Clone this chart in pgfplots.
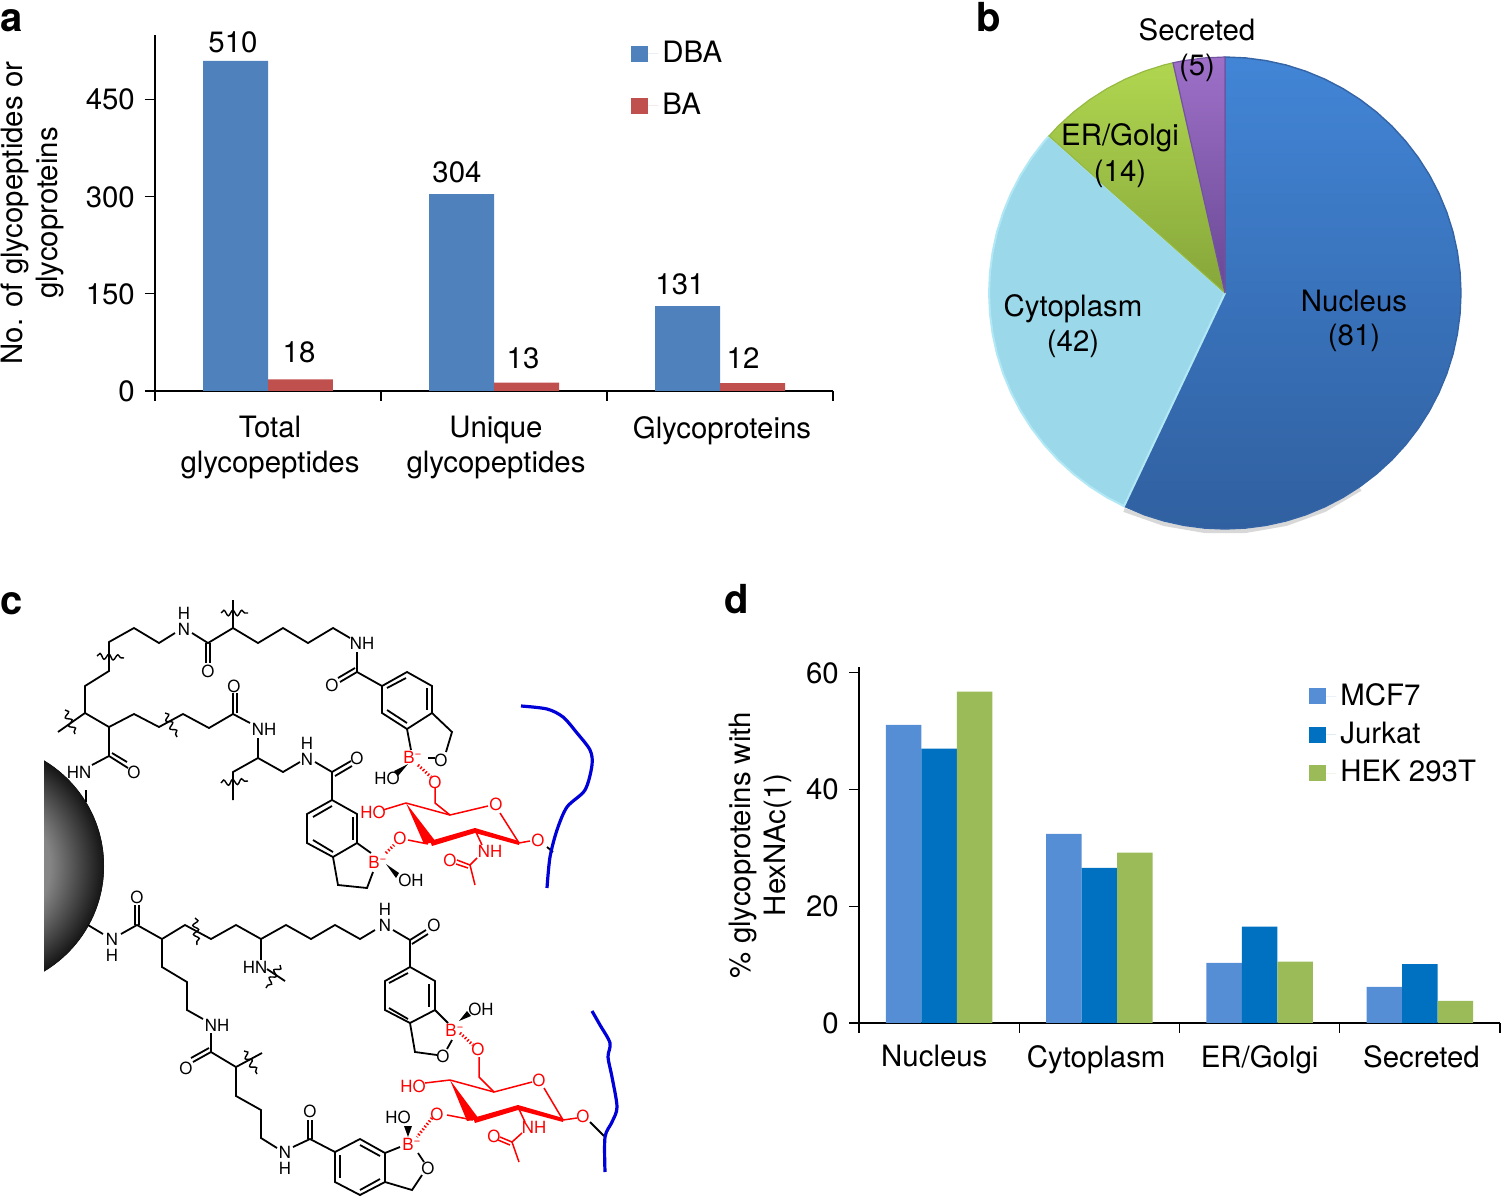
\documentclass[border=0pt]{standalone}
\usepackage{pgfplots}
\pgfplotsset{compat=1.18}
\usepackage{fontspec}
\setmainfont{TeX Gyre Heros}
\usetikzlibrary{decorations.pathmorphing}
\definecolor{dba}{HTML}{4F81BD}
\definecolor{ba}{HTML}{C0504D}
\definecolor{mcf}{HTML}{558ED5}
\definecolor{jurkat}{HTML}{0070C0}
\definecolor{hek}{HTML}{9BBB59}
\pgfdeclareradialshading{sphere}{\pgfpoint{0bp}{0bp}}{color(0bp)=(black!38); color(14bp)=(black!48); color(20bp)=(black!72); color(25bp)=(black!92); color(30bp)=(black); color(50bp)=(black)}
% panel c helpers, coordinates are pixels of the page
\pgfplotsset{
  bond/.style={black,line width=0.9pt,no markers},
  rbond/.style={red,line width=0.75pt,no markers},
  hash/.style={line width=1.5pt,no markers,dash pattern=on 0.7pt off 1pt},
  wig/.style={black,line width=0.7pt,no markers,decorate,decoration={snake,amplitude=1.4pt,segment length=4.5pt}},
  blueline/.style={blue!85!black,line width=1.6pt,no markers,smooth},
  panel/.style={
    scale only axis,axis lines*=left,axis line style={-},
    tick align=outside,tick style={black,line width=0.6pt},major tick length=5pt,
    axis line style={line width=0.6pt},
    /pgf/number format/assume math mode=true,
    xticklabels={},
    enlargelimits=false,
    ybar=0pt,
    legend image code/.code={\fill[##1] (0pt,-4pt) rectangle (8.5pt,4pt);\path (0pt,0pt) -- (13.5pt,0pt);},
    legend cell align=left,
  },
}
\newcommand\bl[1]{\addplot[bond] coordinates {#1};}
\newcommand\rl[1]{\addplot[rbond] coordinates {#1};}
\newcommand\wg[1]{\addplot[wig] coordinates {#1};}
\newcommand\at[3]{\node[font=\fontsize{8.4}{10}\selectfont,inner sep=0pt] at (axis cs:#1,#2) {#3};}
\newcommand\rat[3]{\node[font=\fontsize{8.4}{10}\selectfont,inner sep=0pt,text=red] at (axis cs:#1,#2) {#3};}
\newcommand\lab[3]{\node[inner sep=0pt] at (axis cs:#1,#2) {#3};}
\newcommand\plab[3]{\node[inner sep=0pt,font=\fontsize{20}{24}\selectfont\bfseries] at (axis cs:#1,#2) {#3};}
\begin{document}
\fontsize{14.7}{17.5}\selectfont
\begin{tikzpicture}
\path[use as bounding box] (0pt,0pt) rectangle (751pt,598.5pt);

% panel a
\begin{axis}[panel,at={(77.5pt,403pt)},anchor=south west,width=339pt,height=178pt,
  xmin=-0.5,xmax=2.5,ymin=0,ymax=550,
  ytick={0,150,300,450},
  xtick={-0.5,0.5,1.5,2.5},
  extra x ticks={0,1,2},
  extra x tick labels={Total\\glycopeptides,Unique\\glycopeptides,Glycoproteins},
  extra x tick style={major tick length=0pt,xticklabel style={align=center,yshift=-7.5pt,xshift=1pt}},
  bar width=0.2876,
  ylabel={No. of glycopeptides or\\glycoproteins},
  ylabel style={align=center,yshift=1pt},
  legend style={at={(0.702,0.996)},anchor=north west,draw=none,fill=none,inner sep=0pt,row sep=9pt},
]
\addplot[fill=dba,draw=none] coordinates {(0,510) (1,304) (2,131)};
\addplot[fill=ba,draw=none] coordinates {(0,18) (1,13) (2,12)};
\legend{DBA,BA}
\end{axis}

% panel d
\begin{axis}[panel,at={(429.5pt,87pt)},anchor=south west,width=320.5pt,height=178pt,
  xmin=-0.5,xmax=3.5,ymin=0,ymax=61,
  ytick={0,20,40,60},
  xtick={-0.5,0.5,1.5,2.5,3.5},
  extra x ticks={-0.03,0.98,2,3.01},
  extra x tick labels={Nucleus,Cytoplasm,ER/Golgi,Secreted},
  extra x tick style={major tick length=0pt,xticklabel style={yshift=-6pt}},
  bar width=0.2215,
  ylabel={\% glycoproteins with\\HexNAc(1)},
  ylabel style={align=center,yshift=-3pt},
  legend style={at={(0.702,0.967)},anchor=north west,draw=none,fill=none,inner sep=0pt,row sep=2.25pt},
]
\addplot[fill=mcf,draw=none] coordinates {(0,51.1) (1,32.4) (2,10.3) (3,6.2)};
\addplot[fill=jurkat,draw=none] coordinates {(0,47) (1,26.6) (2,16.5) (3,10.1)};
\addplot[fill=hek,draw=none] coordinates {(0,56.8) (1,29.2) (2,10.5) (3,3.8)};
\legend{MCF7,Jurkat,HEK 293T}
\end{axis}

% pie and panel c in page pixels
\begin{axis}[at={(0pt,0pt)},anchor=south west,width=751pt,height=598.5pt,scale only axis,hide axis,
  xmin=0,xmax=1502,ymin=0,ymax=1197,y dir=reverse,clip=false]
% value labels of panel a
\lab{233}{42}{510}\lab{299}{352}{18}
\lab{457}{172}{304}\lab{523}{358}{13}
\lab{680}{284}{131}\lab{743}{358}{12}

% soft shadow under the pie
\addplot[black!30,line width=2pt,opacity=0.5,no markers] coordinates {
 (1360.4,489) (1324.7,510) (1286.1,524) (1245.6,531) (1204.4,531) (1163.9,524) (1124,510)};
% pie 81 / 42 / 14 / 5
\addplot[top color={rgb,255:red,66;green,133;blue,214},bottom color={rgb,255:red,48;green,96;blue,160},draw={rgb,255:red,52;green,100;blue,165},line width=0.7pt,no markers] coordinates {
 (1225,293) (1225,57) (1245.6,57.9) (1266,60.6) (1286.1,65) (1305.7,71.2) (1324.7,79.1) (1343,88.6) (1360.4,99.7)
 (1376.7,112.2) (1391.9,126.1) (1405.8,141.3) (1418.3,157.6) (1429.4,175) (1438.9,193.3)
 (1446.8,212.3) (1453,231.9) (1457.4,252) (1460.1,272.4) (1461,293) (1460.1,313.6) (1457.4,334) (1453,354.1)
 (1446.8,373.7) (1438.9,392.7) (1429.4,411) (1418.3,428.4) (1405.8,444.7) (1391.9,459.9)
 (1376.7,473.8) (1360.4,486.3) (1343,497.4) (1324.7,506.9) (1305.7,514.8) (1286.1,521) (1266,525.4) (1245.6,528.1)
 (1225,529) (1204.4,528.1) (1184,525.4) (1163.9,521) (1144.3,514.8)
 (1124,506.2) (1225,293)};
\addplot[fill={rgb,255:red,155;green,217;blue,234},draw={rgb,255:red,178;green,232;blue,245},line width=1pt,no markers] coordinates {
 (1225,293) (1124,506.2) (1107,497.4) (1089.6,486.3) (1073.3,473.8) (1058.1,459.9) (1044.2,444.7) (1031.7,428.4) (1020.6,411)
 (1011.1,392.7) (1003.2,373.7) (997,354.1) (992.6,334) (989.9,313.6) (989,293) (989.9,272.4) (992.6,252) (997,231.9)
 (1003.2,212.3) (1011.1,193.3) (1020.6,175) (1031.7,157.6) (1044.2,141.3) (1049,136) (1225,293)};
\addplot[top color={rgb,255:red,176;green,214;blue,80},bottom color={rgb,255:red,134;green,166;blue,58},draw={rgb,255:red,150;green,186;blue,66},line width=0.6pt,no markers] coordinates {
 (1225,293) (1049,136) (1058.1,126.1) (1073.3,112.2) (1089.6,99.7) (1107,88.6) (1125.3,79.1) (1144.3,71.2) (1163.9,65) (1173,62.8) (1225,293)};
\addplot[top color={rgb,255:red,158;green,112;blue,200},bottom color={rgb,255:red,104;green,72;blue,148},draw={rgb,255:red,116;green,82;blue,162},line width=0.6pt,no markers] coordinates {
 (1225,293) (1173,62.8) (1184,60.6) (1204.4,57.9) (1225,57) (1225,293)};
\lab{1197}{30}{Secreted}\lab{1197}{68}{(5)}
\lab{1120}{138}{ER/Golgi}\lab{1120}{174}{(14)}
\lab{1073}{309}{Cytoplasm}\lab{1073}{344}{(42)}
\lab{1354}{301}{Nucleus}\lab{1354}{338}{(81)}
\plab{12}{21}{a}\plab{989}{17}{b}\plab{12}{604}{c}\plab{737}{599}{d}

% bead
\begin{scope}
\clip (axis cs:44,755) rectangle (axis cs:110,975);
\fill[shading=sphere] (axis cs:-18.8,866) circle [radius=61.4pt];
\end{scope}

% upper half, black
\bl{(86,790)(86,802)}
\at{79}{772}{HN}\at{134}{772}{O}
\bl{(92,765)(109,756)(128,768)}\bl{(112,753)(127,762)}
\bl{(109,756)(109,727)(85,713)(85,686)(109,671)(109,642)(134,628)(159,643)(175,633)}
\bl{(85,713)(58,732)}\wg{(65,710)(75,734)}\wg{(97,656)(124,658)}
\bl{(109,727)(134,714)(159,727)(183,714)(209,728)(233,714)(250,723)}\wg{(165,713)(177,737)}
\bl{(233,714)(233,693)}\bl{(237,713)(237,693)}\at{234}{686}{O}
\at{264}{729}{NH}
\bl{(258,738)(258,758)(233,772)(233,800)}\wg{(221,783)(248,781)}
\bl{(258,758)(283,772)(300,762)}\at{307}{759}{N}\at{307}{743}{H}
\bl{(315,762)(332,772)(332,800)}\bl{(332,772)(351,761)}\bl{(335,776)(352,766)}\at{357}{758}{O}
\at{184}{629}{N}\at{184}{613}{H}
\bl{(192,633)(208,643)(233,628)(258,643)(283,628)(308,643)(333,628)(350,638)}
\bl{(206,643)(206,663)}\bl{(210,643)(210,663)}\at{208}{671}{O}
\bl{(233,628)(233,600)}\wg{(221,613)(248,613)}
\at{362}{643}{NH}
\bl{(357,652)(357,672)(382,686)(407,672)(432,686)(432,713)(407,729)(382,713)(382,686)}
\bl{(357,672)(340,682)}\bl{(355,668)(338,678)}\at{332}{685}{O}
\bl{(387,688)(406,678)}\bl{(427,688)(427,710)}\bl{(387,710)(407,723)}
\bl{(432,713)(452,732)(446,752)}\at{441}{760}{O}\bl{(407,729)(411,750)}
\bl{(428,758)(435,758)}
\at{387}{778}{HO}
\addplot[fill=black,draw=none,no markers] coordinates {(408,764)(394,771)(398,776)(408,764)};
% lower benzoxaborole of the upper site
\bl{(332,800)(357,814)(357,843)(333,857)(307,843)(307,814)(332,800)}
\bl{(313,817)(332,806)}\bl{(353,817)(353,840)}\bl{(313,840)(333,852)}
\bl{(357,843)(371,853)}\bl{(333,857)(338,885)(367,888)(373,872)}
\at{411}{880}{OH}
\addplot[fill=black,draw=none,no markers] coordinates {(386,864)(399,873)(396,878)(386,864)};

% upper half, red
\rat{413}{757}{B\textsuperscript{−}}
\rat{378}{862}{B\textsuperscript{−}}
\rat{435}{782}{O}\rat{373}{812}{HO}\rat{400}{838}{O}\rat{496}{804}{O}\rat{538}{840}{O}
\rat{490}{851}{NH}\rat{450}{860}{O}
\addplot[red,hash] coordinates {(418,765)(431,777)};
\addplot[red,hash] coordinates {(386,853)(394,845)};
\rl{(435,788)(435,803)(450,815)(488,806)}\rl{(500,813)(519,843)(530,841)}
\rl{(406,803)(450,815)}\rl{(383,810)(406,803)}\rl{(408,840)(428,844)}
\addplot[fill=red,draw=none,no markers] coordinates {(406,803)(436,842)(424,844)(406,803)};
\addplot[fill=red,draw=none,no markers] coordinates {(430,841)(475,828)(519,841)(519,845)(475,833)(432,846)(430,841)};
\rl{(475,830)(482,845)}\rl{(477,858)(470,865)(457,860)}\rl{(468,868)(456,864)}\rl{(470,865)(475,885)}
\bl{(547,847)(553,852)}
\addplot[blueline] coordinates {(521,706)(547,709)(563,717)(577,733)(590,750)(592,765)(585,790)(567,807)(557,830)(550,857)(547,888)};

% lower half, black
\bl{(88,925)(103,934)}\at{112}{939}{N}\at{112}{955}{H}
\bl{(121,934)(137,925)(162,939)}\bl{(135,925)(135,905)}\bl{(139,925)(139,905)}\at{137}{897}{O}
\bl{(162,939)(185,925)(211,939)(236,925)(261,939)(286,925)(311,939)(335,925)(360,939)(375,930)}
\wg{(195,918)(197,945)}
\bl{(261,939)(261,960)}\at{255}{967}{HN}\wg{(280,965)(266,988)}\bl{(267,969)(285,981)}
\bl{(162,939)(162,967)(187,982)(187,1010)(203,1019)}\at{217}{1025}{NH}
\bl{(211,1033)(211,1052)(236,1067)(262,1053)}\bl{(211,1052)(193,1062)}\bl{(209,1048)(191,1058)}\at{186}{1068}{O}
\wg{(244,1051)(257,1074)}
\bl{(236,1067)(236,1096)(261,1110)(261,1138)(277,1148)}
\at{285}{1152}{N}\at{285}{1168}{H}
\at{385}{925}{N}\at{385}{909}{H}
\bl{(393,930)(410,940)(410,967)}\bl{(410,940)(426,930)}\bl{(412,944)(428,934)}\at{434}{925}{O}
\bl{(410,967)(435,981)(435,1010)(410,1023)(385,1010)(385,981)(410,967)}
\bl{(389,983)(408,973)}\bl{(429,984)(429,1007)}\bl{(389,1008)(408,1019)}
\bl{(435,1010)(448,1023)}\bl{(410,1023)(415,1052)(437,1055)}\at{443}{1056}{O}\bl{(452,1040)(447,1049)}
\at{481}{1009}{OH}
\addplot[fill=black,draw=none,no markers] coordinates {(459,1021)(467,1011)(471,1016)(459,1021)};
\bl{(293,1147)(310,1139)(335,1152)}\bl{(308,1139)(308,1120)}\bl{(312,1139)(312,1120)}\at{310}{1111}{O}
\bl{(335,1152)(360,1139)(385,1153)(385,1182)(360,1195)(335,1182)(335,1152)}
\bl{(340,1155)(340,1178)}\bl{(360,1145)(380,1156)}\bl{(360,1190)(380,1179)}
\bl{(400,1147)(385,1153)}\bl{(385,1182)(412,1190)(422,1175)}\at{428}{1168}{O}\bl{(418,1153)(424,1162)}
\at{398}{1117}{HO}
\addplot[fill=black,draw=none,no markers] coordinates {(408,1137)(404,1126)(412,1126)(408,1137)};

% lower half, red
\rat{455}{1030}{B\textsuperscript{−}}\rat{412}{1144}{B\textsuperscript{−}}
\rat{478}{1049}{O}\rat{413}{1086}{HO}\rat{437}{1114}{O}\rat{539}{1080}{O}\rat{583}{1116}{O}
\rat{534}{1127}{NH}\rat{494}{1136}{O}
\addplot[red,hash] coordinates {(460,1033)(473,1045)};
\addplot[red,hash] coordinates {(432,1118)(417,1137)};
\rl{(479,1057)(479,1077)(494,1092)(532,1082)}\rl{(544,1088)(563,1120)(577,1118)}
\rl{(450,1080)(494,1092)}\rl{(425,1083)(450,1080)}\rl{(447,1115)(473,1120)}
\addplot[fill=red,draw=none,no markers] coordinates {(450,1080)(479,1119)(467,1121)(450,1080)};
\addplot[fill=red,draw=none,no markers] coordinates {(473,1118)(518,1105)(563,1118)(563,1122)(518,1110)(475,1123)(473,1118)};
\rl{(518,1107)(525,1122)}\rl{(522,1133)(512,1142)(500,1137)}\rl{(510,1145)(498,1140)}\rl{(512,1142)(519,1162)}
\bl{(590,1122)(604,1136)}
\addplot[blueline] coordinates {(592,1011)(600,1025)(610,1043)(608,1057)(612,1077)(617,1107)(612,1122)(605,1137)(605,1172)};
\end{axis}
\end{tikzpicture}
\end{document}
